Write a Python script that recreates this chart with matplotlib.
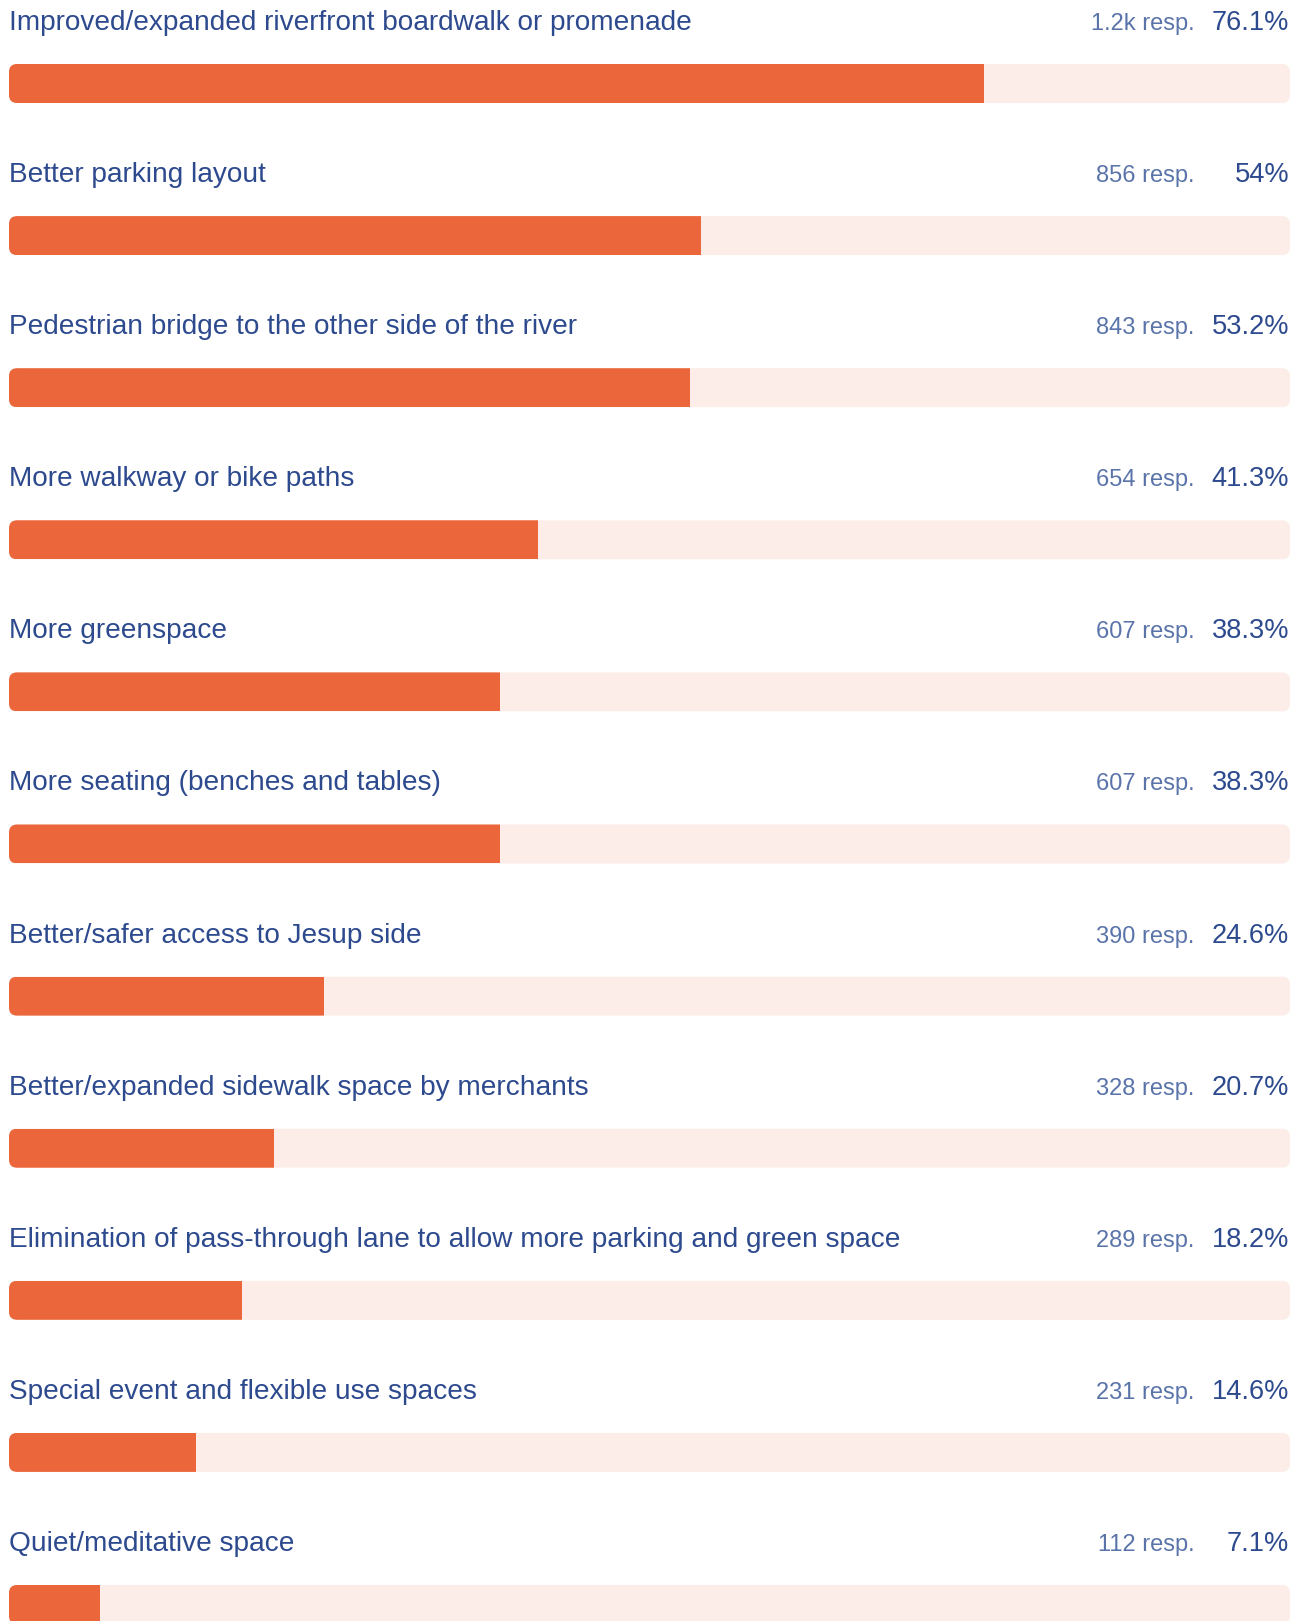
import matplotlib
matplotlib.use("Agg")
import matplotlib.pyplot as plt
from matplotlib.patches import FancyBboxPatch, Rectangle

# survey answers, top to bottom
labels = [
    "Improved/expanded riverfront boardwalk or promenade",
    "Better parking layout",
    "Pedestrian bridge to the other side of the river",
    "More walkway or bike paths",
    "More greenspace",
    "More seating (benches and tables)",
    "Better/safer access to Jesup side",
    "Better/expanded sidewalk space by merchants",
    "Elimination of pass-through lane to allow more parking and green space",
    "Special event and flexible use spaces",
    "Quiet/meditative space",
]
percents = [76.1, 54, 53.2, 41.3, 38.3, 38.3, 24.6, 20.7, 18.2, 14.6, 7.1]
responses = ["1.2k", "856", "843", "654", "607", "607", "390", "328", "289", "231", "112"]
pct_labels = ["76.1%", "54%", "53.2%", "41.3%", "38.3%", "38.3%", "24.6%", "20.7%", "18.2%", "14.6%", "7.1%"]

W, H = 1303, 1621
BAR_L, BAR_R = 9, 1290
ROW = 152.1
BAR_TOP0 = 64
BAR_H = 39
RADIUS = 8

ORANGE = "#EB663B"
TRACK = "#FCEDE8"
DARK = "#2D4A8E"
LIGHT = "#5A74AA"

plt.rcParams["font.family"] = ["Liberation Sans", "DejaVu Sans"]

fig = plt.figure(figsize=(W / 100, H / 100), dpi=100)
ax = fig.add_axes([0, 0, 1, 1])
ax.axis("off")

xpp = 100.0 / (BAR_R - BAR_L)   # percent per pixel
ypp = 1.0 / ROW                 # rows per pixel
ax.set_xlim(-BAR_L * xpp, (W - BAR_L) * xpp)
ax.set_ylim((H - BAR_TOP0) * ypp, -BAR_TOP0 * ypp)

r = RADIUS * xpp
aspect = ypp / xpp
bh = BAR_H * ypp

for i, (lab, p, n, pl) in enumerate(zip(labels, percents, responses, pct_labels)):
    track = FancyBboxPatch((0, i), 100, bh, boxstyle=f"round,pad=0,rounding_size={r}",
                           mutation_aspect=aspect, fc=TRACK, ec="none")
    ax.add_patch(track)
    bar = FancyBboxPatch((0, i), 100, bh, boxstyle=f"round,pad=0,rounding_size={r}",
                         mutation_aspect=aspect, fc=ORANGE, ec="none")
    ax.add_patch(bar)
    clip = Rectangle((0, i), p, bh, transform=ax.transData)
    bar.set_clip_path(clip)

    base = i - 34 * ypp
    ax.text(0, base, lab, fontsize=20.2, color=DARK, va="baseline", ha="left")
    ax.text(99.95, base, pl, fontsize=19.6, color=DARK, va="baseline", ha="right")
    ax.text(92.55, base, f"{n} resp.", fontsize=17, color=LIGHT, va="baseline", ha="right")

fig.savefig("out.png", dpi=100, facecolor="white")
